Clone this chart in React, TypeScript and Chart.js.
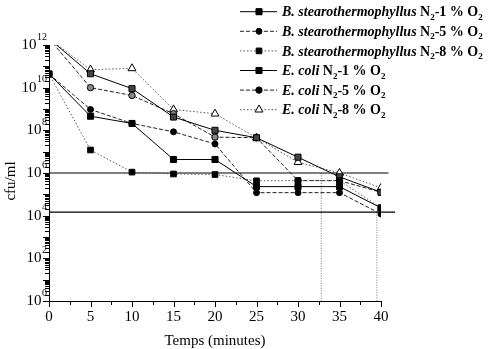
import React, { useEffect, useRef } from 'react';
import { Chart, registerables } from 'chart.js';

Chart.register(...registerables);

// ---- data ----
const times = [0, 5, 10, 15, 20, 25, 30, 35, 40];
const bStear1 = [4.4e10, 4.6e8, 2.1e8, 4.3e6, 4.3e6, 2.3e5, 2.3e5, 2.3e5, 2.3e4];
const bStear5 = [4.4e10, 9.5e8, 2.1e8, 8.5e7, 2.3e7, 1.2e5, 1.2e5, 1.2e5, 1.2e4];
const bStear8 = [4.4e10, 1.2e7, 1.1e6, 9e5, 8.5e5, 4.3e5, 4.4e5, 4.4e5, 2.3e4];
const eColi1 = [2e12, 4.5e10, 9e9, 4.2e8, 1e8, 4.5e7, 5.5e6, 6.6e5, 1.25e5];
const eColi5 = [2e12, 1e10, 4.3e9, 6e8, 4.8e7, 4.5e7, 4.4e5, 4.4e5, 1.25e5];
const eColi8 = [2e12, 7e10, 8e10, 9.5e8, 6e8, 4.5e7, 3.2e6, 1e6, 2e5];

const speciesNames = [
  'B. stearothermophyllus',
  'B. stearothermophyllus',
  'B. stearothermophyllus',
  'E. coli',
  'E. coli',
  'E. coli',
];
const o2Levels = ['1', '5', '8', '1', '5', '8'];

// reference lines
const upperLimit = 1e6;
const lowerLimit = 1.45e4;
const upperLineEnd = 40.9;
const lowerLineEnd = 41.7;
const crossTimes = [32.8, 39.5];
const crossLevels = [1e6, 1.45e4];

// ticks
const xTickValues = [0, 2.5, 5, 7.5, 10, 12.5, 15, 17.5, 20, 22.5, 25, 27.5, 30, 32.5, 35, 37.5, 40];
const yLabelExponents = [0, 2, 4, 6, 8, 10, 12];
const yDecades = [0, 1, 2, 3, 4, 5, 6, 7, 8, 9, 10, 11, 12];
const yMinorMultipliers = [2, 3, 4, 5, 6, 7, 8, 9];

const FONT = '"Liberation Serif", "Times New Roman", serif';

type SeriesStyle = {
  values: number[];
  pointStyle: 'rect' | 'circle' | 'triangle';
  radius: number;
  fill: string;
  line: string;
  dash: number[];
  hideFirst: boolean;
};

const seriesStyles: SeriesStyle[] = [
  { values: bStear1, pointStyle: 'rect', radius: 4.3, fill: '#000', line: '#000', dash: [], hideFirst: false },
  { values: bStear5, pointStyle: 'circle', radius: 3, fill: '#000', line: '#222', dash: [4, 2], hideFirst: false },
  { values: bStear8, pointStyle: 'rect', radius: 4, fill: '#000', line: '#555', dash: [1.5, 2], hideFirst: false },
  { values: eColi1, pointStyle: 'rect', radius: 4.3, fill: '#444', line: '#000', dash: [], hideFirst: true },
  { values: eColi5, pointStyle: 'circle', radius: 3.2, fill: '#888', line: '#222', dash: [4, 2], hideFirst: true },
  { values: eColi8, pointStyle: 'triangle', radius: 4.6, fill: '#fff', line: '#555', dash: [1.5, 2], hideFirst: true },
];

function drawMarker(ctx: CanvasRenderingContext2D, style: string, r: number, x: number, y: number, fill: string) {
  ctx.save();
  ctx.setLineDash([]);
  ctx.beginPath();
  if (style === 'circle') {
    ctx.arc(x, y, r, 0, Math.PI * 2);
  } else if (style === 'rect') {
    const s = r * Math.SQRT1_2;
    ctx.rect(x - s, y - s, 2 * s, 2 * s);
  } else {
    let a = 0;
    ctx.moveTo(x + Math.sin(a) * r, y - Math.cos(a) * r);
    a += (2 * Math.PI) / 3;
    ctx.lineTo(x + Math.sin(a) * r, y - Math.cos(a) * r);
    a += (2 * Math.PI) / 3;
    ctx.lineTo(x + Math.sin(a) * r, y - Math.cos(a) * r);
    ctx.closePath();
  }
  ctx.fillStyle = fill;
  ctx.fill();
  ctx.strokeStyle = '#000';
  ctx.lineWidth = 1;
  ctx.stroke();
  ctx.restore();
}

const overlayPlugin = {
  id: 'overlay',
  afterDraw(chart: any) {
    const ctx: CanvasRenderingContext2D = chart.ctx;
    const yScale = chart.scales.y;
    const xScale = chart.scales.x;
    const area = chart.chartArea;
    ctx.save();

    // tick marks (outward)
    ctx.fillStyle = '#000';
    const axX = Math.round(area.left);
    for (const d of yDecades) {
      const base = Math.pow(10, d);
      const py = Math.round(yScale.getPixelForValue(base));
      ctx.fillRect(axX - 6, py, 7, 1);
      if (d < 12) {
        for (const m of yMinorMultipliers) {
          const pm = Math.round(yScale.getPixelForValue(m * base));
          ctx.fillRect(axX - 4, pm, 5, 1);
        }
      }
    }
    const axY = Math.round(area.bottom);
    for (const v of xTickValues) {
      const px = Math.round(xScale.getPixelForValue(v));
      const len = v % 5 === 0 ? 5 : 3;
      ctx.fillRect(px, axY, 1, len + 1);
    }

    ctx.fillStyle = '#000';
    ctx.textBaseline = 'alphabetic';
    // y tick labels 10^n
    const rightEdge = area.left - 2;
    for (const e of yLabelExponents) {
      const py = yScale.getPixelForValue(Math.pow(10, e));
      const expStr = String(e);
      ctx.font = `10px ${FONT}`;
      ctx.textAlign = 'right';
      const ew = ctx.measureText(expStr).width;
      ctx.fillText(expStr, rightEdge, py - 5.5);
      ctx.font = `15px ${FONT}`;
      ctx.fillText('10', rightEdge - ew - 0.5, py + 4);
    }
    // y axis title
    ctx.save();
    ctx.translate(11, (area.top + area.bottom) / 2 + 8);
    ctx.rotate(-Math.PI / 2);
    ctx.textAlign = 'center';
    ctx.textBaseline = 'middle';
    ctx.font = `15px ${FONT}`;
    ctx.fillText('cfu/ml', 0, 0);
    ctx.restore();

    // legend
    const lineX0 = 240;
    const lineX1 = 277;
    const markX = 259;
    const textX = 282;
    for (let i = 0; i < seriesStyles.length; i++) {
      const st = seriesStyles[i];
      const rowY = 11.7 + i * 19.6;
      ctx.save();
      ctx.strokeStyle = st.line;
      ctx.lineWidth = 1;
      ctx.setLineDash(st.dash);
      ctx.beginPath();
      ctx.moveTo(lineX0, rowY);
      ctx.lineTo(lineX1, rowY);
      ctx.stroke();
      ctx.restore();
      drawMarker(ctx, st.pointStyle, st.radius, markX, rowY, st.fill === '#fff' ? '#fff' : '#000');

      const base = rowY + 4.6;
      let x = textX;
      ctx.textAlign = 'left';
      ctx.fillStyle = '#000';
      ctx.font = `italic bold 14px ${FONT}`;
      ctx.fillText(speciesNames[i], x, base);
      x += ctx.measureText(speciesNames[i]).width;
      ctx.font = `bold 14px ${FONT}`;
      ctx.fillText(' N', x, base);
      x += ctx.measureText(' N').width;
      ctx.font = `bold 9px ${FONT}`;
      ctx.fillText('2', x, base + 3.5);
      x += ctx.measureText('2').width;
      ctx.font = `bold 14px ${FONT}`;
      const mid = `-${o2Levels[i]} % O`;
      ctx.fillText(mid, x, base);
      x += ctx.measureText(mid).width;
      ctx.font = `bold 9px ${FONT}`;
      ctx.fillText('2', x, base + 3.5);
    }
    ctx.restore();
  },
};

export default function App() {
  const ref = useRef<HTMLCanvasElement | null>(null);

  useEffect(() => {
    if (!ref.current) return;

    const seriesDatasets = seriesStyles.map((st, i) => ({
      label: `${speciesNames[i]} N2-${o2Levels[i]} % O2`,
      data: times.map((t, j) => ({ x: t, y: st.values[j] })),
      borderColor: st.line,
      borderWidth: 1,
      borderDash: st.dash,
      backgroundColor: st.fill,
      pointStyle: st.pointStyle,
      pointRadius: st.values.map((_, j) => (st.hideFirst && j === 0 ? 0 : st.radius)),
      pointBorderColor: '#000',
      pointBorderWidth: 1,
      pointBackgroundColor: st.fill,
      tension: 0,
      fill: false,
    }));

    const refDatasets = [
      {
        label: 'upper',
        data: [{ x: 0, y: upperLimit }, { x: upperLineEnd, y: upperLimit }],
        borderColor: '#000',
        borderWidth: 1.2,
        pointRadius: 0,
        clip: false as any,
      },
      {
        label: 'lower',
        data: [{ x: 0, y: lowerLimit }, { x: lowerLineEnd, y: lowerLimit }],
        borderColor: '#000',
        borderWidth: 1.2,
        pointRadius: 0,
        clip: false as any,
      },
      ...crossTimes.map((t, k) => ({
        label: 'cross' + k,
        data: [{ x: t, y: crossLevels[k] }, { x: t, y: 1 }],
        borderColor: '#777',
        borderWidth: 1,
        borderDash: [1, 1.5],
        pointRadius: 0,
      })),
    ];

    const chart = new Chart(ref.current, {
      type: 'line',
      data: { datasets: [...seriesDatasets, ...refDatasets] as any },
      options: {
        responsive: false,
        devicePixelRatio: 1,
        animation: false,
        layout: { padding: { top: 45, right: 111, left: 0, bottom: 0 } },
        plugins: { legend: { display: false }, tooltip: { enabled: false } },
        scales: {
          x: {
            type: 'linear',
            min: 0,
            max: 40,
            afterBuildTicks: (s: any) => {
              s.ticks = xTickValues.map((v) => ({ value: v }));
            },
            afterFit: (s: any) => {
              s.height = 48;
            },
            ticks: {
              autoSkip: false,
              maxRotation: 0,
              padding: 7,
              color: '#000',
              font: { family: FONT, size: 15 },
              callback: (v: any) => (Number(v) % 5 === 0 ? String(v) : ''),
            },
            grid: { display: false, drawTicks: false },
            border: { display: true, color: '#000', width: 1 },
            title: {
              display: true,
              text: 'Temps (minutes)',
              color: '#000',
              font: { family: FONT, size: 15, lineHeight: 1 },
              padding: 0,
            },
          },
          y: {
            type: 'logarithmic',
            min: 1,
            max: 1e12,
            afterFit: (s: any) => {
              s.width = 49;
            },
            ticks: { display: false },
            grid: { display: false, drawTicks: false },
            border: { display: true, color: '#000', width: 1 },
          },
        },
      } as any,
      plugins: [overlayPlugin as any],
    });

    return () => chart.destroy();
  }, []);

  return (
    <div style={{ position: 'absolute', left: 0, top: 0, width: 492, height: 349, background: '#fff' }}>
      <canvas ref={ref} width={492} height={349} style={{ display: 'block', width: 492, height: 349 }} />
    </div>
  );
}
